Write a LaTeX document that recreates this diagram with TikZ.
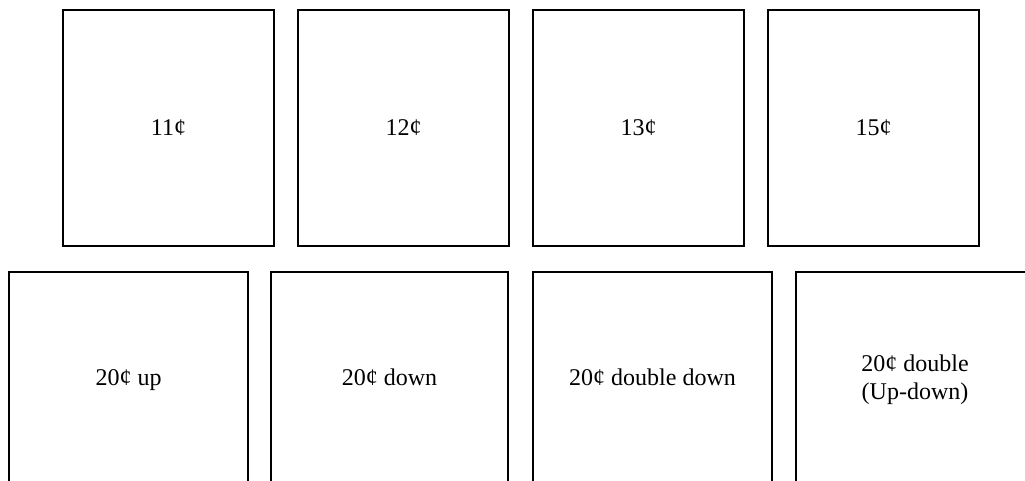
\documentclass[tikz,border=0pt]{standalone}
\usepackage{fontspec}
\setmainfont{Liberation Serif}
\usetikzlibrary{positioning}

\tikzset{
  card/.style={draw=black,line width=1.5pt},
  cardtext/.style={font=\fontsize{18}{20.5}\selectfont,align=center,inner sep=0pt,anchor=base}
}

\begin{document}
\begin{tikzpicture}[x=0.75pt,y=-0.75pt]
  \useasboundingbox (0,0) rectangle (1025,480);
  \clip (0,0) rectangle (1025,480);
  % top row of stamps
  \draw[card] (63,10) rectangle (274,246);
  \draw[card] (298,10) rectangle (509,246);
  \draw[card] (533,10) rectangle (744,246);
  \draw[card] (768,10) rectangle (979,246);
  \node[cardtext] (s11) at (168.5,135) {11¢};
  \node[cardtext] (s12) at (403.5,135) {12¢};
  \node[cardtext] (s13) at (638.5,135) {13¢};
  \node[cardtext] (s15) at (873.5,135) {15¢};
  % bottom row, cut by the page edge
  \draw[card] (9,272) rectangle (248,486);
  \draw[card] (271,272) rectangle (508,486);
  \draw[card] (533,272) rectangle (772,486);
  \draw[card] (796,272) rectangle (1034,486);
  \node[cardtext] (sup) at (128.5,385) {20¢ up};
  \node[cardtext] (sdown) at (389.5,385) {20¢ down};
  \node[cardtext] (sdd) at (652.5,385) {20¢ double down};
  \node[cardtext] (sud) at (915,399) {20¢ double\\(Up-down)};
\end{tikzpicture}
\end{document}
